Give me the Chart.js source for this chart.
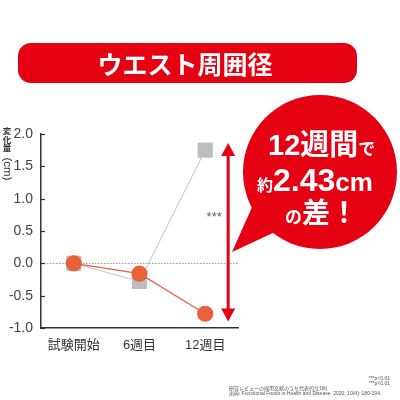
<!DOCTYPE html>
<html>
<head>
<meta charset="utf-8">
<script src="https://cdn.jsdelivr.net/npm/chart.js@4/dist/chart.umd.min.js"></script>
<style>
  html, body { margin: 0; padding: 0; background: #fff; }
  #wrap { width: 400px; height: 400px; position: relative; }
</style>
</head>
<body>
<div id="wrap"><canvas id="c" width="400" height="400"></canvas></div>
<script>
// data
const labels = ['試験開始', '6週目', '12週目'];
const testValues = [0, -0.16, -0.78];     // orange circles
const placeboValues = [0, -0.28, 1.75];   // gray squares
const yTicks = [-1, -0.5, 0, 0.5, 1, 1.5, 2];
const arrowRange = [1.86, -0.9];          // red double arrow, in y units
const starsAt = 0.75;

const RED = '#E50012';
const ORANGE = '#E9603A';
const JP = "'Liberation Sans', 'Noto Sans CJK JP', sans-serif";

// banner, bubble, arrow, custom ticks and captions
const deco = {
  id: 'deco',
  beforeDatasetsDraw(chart) {
    const { ctx, scales: { x, y } } = chart;
    // dotted zero line
    ctx.save();
    ctx.strokeStyle = '#999';
    ctx.lineWidth = 1;
    ctx.setLineDash([1.5, 1.5]);
    const y0 = Math.round(y.getPixelForValue(0)) + 0.5;
    ctx.beginPath(); ctx.moveTo(x.left, y0); ctx.lineTo(x.right, y0); ctx.stroke();
    ctx.restore();
    // inner ticks
    ctx.save();
    ctx.strokeStyle = '#333'; ctx.lineWidth = 1.2;
    yTicks.forEach(v => {
      const p = Math.round(y.getPixelForValue(v)) + 0.5;
      ctx.beginPath(); ctx.moveTo(x.left, p); ctx.lineTo(x.left + 4, p); ctx.stroke();
    });
    ctx.restore();
  },
  afterDraw(chart) {
    const { ctx, scales: { x, y } } = chart;
    ctx.save();
    // title banner
    ctx.fillStyle = RED;
    ctx.beginPath(); ctx.roundRect(18, 43, 339, 40, 13); ctx.fill();
    ctx.fillStyle = '#fff';
    ctx.font = "bold 25px 'Noto Sans CJK JP', sans-serif";
    ctx.textAlign = 'center'; ctx.textBaseline = 'middle';
    ctx.fillText('ウエスト周囲径', 185, 64);

    // y title: vertical
    ctx.fillStyle = '#333';
    ctx.font = "bold 8.5px 'Noto Sans CJK JP', sans-serif";
    ['変', '化', '量'].forEach((ch, i) => ctx.fillText(ch, 7, 131 + i * 8.5));
    ctx.save();
    ctx.translate(7, 169); ctx.rotate(Math.PI / 2);
    ctx.font = "11.5px " + JP;
    ctx.fillText('(cm)', 0, 0);
    ctx.restore();

    // red double arrow
    const ax = x.getPixelForValue(2) + 23;
    const top = y.getPixelForValue(arrowRange[0]);
    const bot = y.getPixelForValue(arrowRange[1]);
    ctx.strokeStyle = RED; ctx.fillStyle = RED; ctx.lineWidth = 3;
    ctx.beginPath(); ctx.moveTo(ax, top + 8); ctx.lineTo(ax, bot - 8); ctx.stroke();
    ctx.beginPath(); ctx.moveTo(ax, top); ctx.lineTo(ax - 7, top + 13); ctx.lineTo(ax + 7, top + 13); ctx.closePath(); ctx.fill();
    ctx.beginPath(); ctx.moveTo(ax, bot); ctx.lineTo(ax - 7, bot - 13); ctx.lineTo(ax + 7, bot - 13); ctx.closePath(); ctx.fill();

    // stars
    ctx.fillStyle = '#666';
    ctx.font = "13px " + JP;
    ctx.textAlign = 'center';
    ctx.fillText('***', ax - 14, y.getPixelForValue(starsAt) + 3);

    // speech bubble
    ctx.fillStyle = RED;
    ctx.beginPath(); ctx.arc(320, 172, 77, 0, Math.PI * 2); ctx.fill();
    ctx.beginPath(); ctx.moveTo(253, 205); ctx.lineTo(232, 252); ctx.lineTo(275, 232); ctx.closePath(); ctx.fill();

    ctx.fillStyle = '#fff';
    ctx.textAlign = 'left'; ctx.textBaseline = 'alphabetic';
    const runs = (parts, startX, baseY) => {
      let cx = startX;
      parts.forEach(([t, f]) => { ctx.font = f; ctx.fillText(t, cx, baseY); cx += ctx.measureText(t).width; });
    };
    runs([['12週間', "bold 29px " + JP], ['で', "bold 17px 'Noto Sans CJK JP'"]], 268, 155);
    runs([['約', "bold 16px 'Noto Sans CJK JP'"], ['2.43', "bold 32px " + JP], ['cm', "bold 26px " + JP]], 257, 191);
    runs([['の', "bold 17px 'Noto Sans CJK JP'"], ['差！', "bold 28px 'Noto Sans CJK JP'"]], 285, 223);

    // footer captions
    ctx.fillStyle = '#555';
    ctx.font = "5px " + JP;
    ctx.textBaseline = 'middle';
    ctx.textAlign = 'right';
    ctx.fillText('***p<0.01', 390, 379);
    ctx.fillText('***p<0.01', 390, 384);
    ctx.textAlign = 'left';
    ctx.fillText('研究レビューの採用文献のうち代表的な1例', 229, 389);
    ctx.fillText('出典: Functional Foods in Health and Disease. 2020; 10(4): 180-194.', 229, 394);
    ctx.restore();
  }
};

new Chart(document.getElementById('c'), {
  type: 'line',
  data: {
    labels,
    datasets: [
      {
        data: testValues,
        borderColor: ORANGE, borderWidth: 1.2,
        pointStyle: 'circle', pointRadius: 7.5,
        pointBackgroundColor: ORANGE, pointBorderColor: ORANGE,
        tension: 0
      },
      {
        data: placeboValues,
        borderColor: '#C4C4C4', borderWidth: 1,
        pointStyle: 'rect', pointRadius: 10,
        pointBackgroundColor: '#BDBDBD', pointBorderColor: '#BDBDBD',
        tension: 0
      }
    ]
  },
  options: {
    responsive: false,
    animation: false,
    layout: { padding: { top: 134, right: 162, bottom: 0, left: 0 } },
    plugins: { legend: { display: false }, tooltip: { enabled: false } },
    scales: {
      x: {
        offset: true,
        grid: { display: false, drawTicks: false },
        border: { display: true, color: '#333', width: 1.5 },
        ticks: { color: '#333', font: { size: 13, family: JP }, padding: 10 },
        afterFit: s => { s.height = 72; }
      },
      y: {
        min: -1, max: 2,
        grid: { display: false, drawTicks: false },
        border: { display: true, color: '#333', width: 1.5 },
        ticks: {
          stepSize: 0.5, color: '#444', padding: 8,
          font: { size: 14, family: JP },
          callback: v => Number(v).toFixed(1)
        },
        afterFit: s => { s.width = 41; }
      }
    }
  },
  plugins: [deco]
});
</script>
</body>
</html>
